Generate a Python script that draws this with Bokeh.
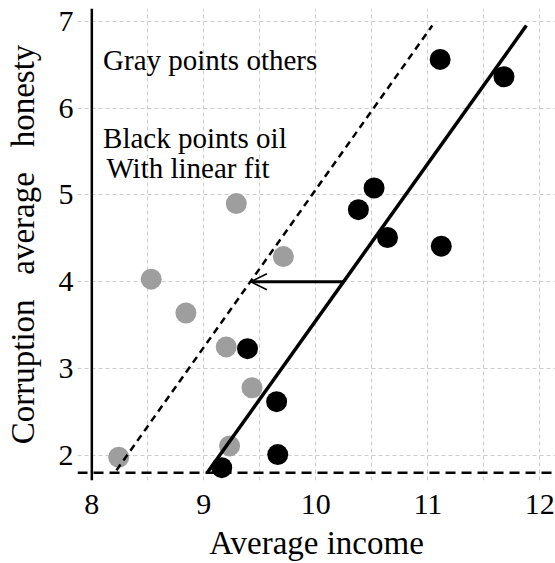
from bokeh.plotting import figure
from bokeh.models import Span, Arrow, OpenHead, FixedTicker, Range1d, ColumnDataSource
from bokeh.core.properties import value
from bokeh.embed import file_html
from bokeh.resources import INLINE

# ---- data ----
gray_x = [8.24, 8.53, 8.84, 9.20, 9.29, 9.71, 9.43, 9.23]
gray_y = [1.98, 4.03, 3.64, 3.25, 4.90, 4.29, 2.78, 2.11]

black_x = [9.16, 9.66, 9.65, 9.39, 10.38, 10.52, 10.64, 11.12, 11.11, 11.68]
black_y = [1.86, 2.01, 2.62, 3.23, 4.83, 5.08, 4.51, 4.41, 6.56, 6.36]

fit_x = [9.03, 11.88]
fit_y = [1.80, 6.95]

shift_x = [8.22, 11.04]
shift_y = [1.83, 6.95]

arrow_x = [10.25, 9.42]
arrow_y = [4.0, 4.0]

vline_x = 8.0
hline_y = 1.8

x_ticks = [8, 9, 10, 11, 12]
x_grid = [8, 8.5, 9, 9.5, 10, 10.5, 11, 11.5, 12]
y_ticks = [2, 3, 4, 5, 6, 7]

ann_text = ["Gray points others", "Black points oil", "With linear fit"]
ann_x = [8.1, 8.1, 8.13]
ann_y = [6.55, 5.65, 5.31]

FONT = "Liberation Serif"

p = figure(width=555, height=563, output_backend="svg", toolbar_location=None,
           x_range=Range1d(7.872, 12.14), y_range=Range1d(1.712, 7.146),
           min_border_left=77, min_border_top=8, min_border_right=0, min_border_bottom=83)
p.outline_line_color = None
p.background_fill_color = "white"

# grids
p.xgrid.ticker = FixedTicker(ticks=x_grid)
p.ygrid.ticker = FixedTicker(ticks=y_ticks)
for g in (p.xgrid, p.ygrid):
    g.grid_line_color = "#cccccc"
    g.grid_line_dash = "4 3"
    g.grid_line_width = 1

# axes
p.xaxis.ticker = FixedTicker(ticks=x_ticks)
p.yaxis.ticker = FixedTicker(ticks=y_ticks)
for ax in (p.xaxis, p.yaxis):
    ax.axis_line_color = None
    ax.major_tick_line_color = None
    ax.minor_tick_line_color = None
    ax.major_tick_out = 0
    ax.major_tick_in = 0
    ax.major_label_text_font = FONT
    ax.major_label_text_font_size = "30px"
    ax.major_label_text_color = "black"
    ax.axis_label_text_font = FONT
    ax.axis_label_text_font_size = "33px"
    ax.axis_label_text_font_style = "normal"
    ax.axis_label_text_color = "black"
p.xaxis.axis_label = "Average income"
p.yaxis.axis_label = "Corruption\u00a0\u00a0\u00a0average\u00a0\u00a0\u00a0honesty"
p.xaxis.major_label_standoff = 14
p.xaxis.axis_label_standoff = 8
p.yaxis.major_label_standoff = 4
p.yaxis.axis_label_standoff = 15

# reference lines
p.add_layout(Span(location=vline_x, dimension="height", line_color="black", line_width=2.5))
p.add_layout(Span(location=hline_y, dimension="width", line_color="black", line_width=2.5,
                  line_dash="10 6"))

# points
p.scatter(gray_x, gray_y, size=21, fill_color="#9e9e9e", line_color=None)
p.scatter(black_x, black_y, size=21, fill_color="black", line_color=None)

# lines
p.line(fit_x, fit_y, line_color="black", line_width=3.5)
p.line(shift_x, shift_y, line_color="black", line_width=2.5, line_dash="7 5")

p.add_layout(Arrow(end=OpenHead(size=16, line_width=1.5, line_color="black"),
                   x_start=arrow_x[0], y_start=arrow_y[0],
                   x_end=arrow_x[1], y_end=arrow_y[1],
                   line_color="black", line_width=3))

src = ColumnDataSource(dict(x=ann_x, y=ann_y, t=ann_text))
p.text(x="x", y="y", text="t", source=src, text_font=value(FONT),
       text_font_size="29px", text_align="left", text_baseline="alphabetic",
       text_color="black")

open("out.html", "w").write(file_html(p, INLINE))
